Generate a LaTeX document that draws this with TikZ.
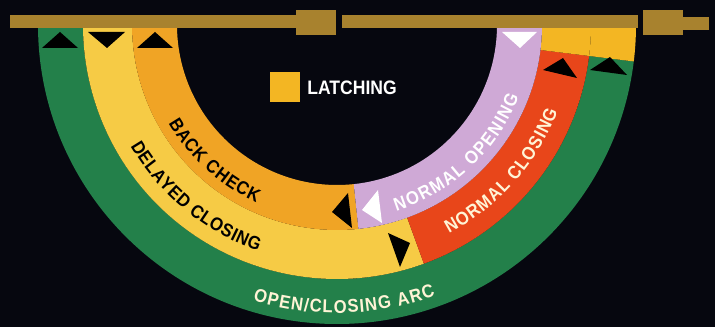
\documentclass[tikz,border=0pt]{standalone}
\usepackage{fontspec}
\setmainfont{Liberation Sans}
\usepackage{xcolor}
\usepackage{tikz}
\usetikzlibrary{positioning,decorations.text}
\newfontfamily\dcfont[FakeStretch=0.9]{Liberation Sans Bold}
\definecolor{DCBack}{HTML}{06070F}
\definecolor{DCBar}{HTML}{A8822E}
\definecolor{DCGreen}{HTML}{23804A}
\definecolor{DCYellow}{HTML}{F6CB45}
\definecolor{DCOrange}{HTML}{F0A425}
\definecolor{DCLatch}{HTML}{F3B623}
\definecolor{DCPurple}{HTML}{CFA9D6}
\definecolor{DCRed}{HTML}{E8461A}
\definecolor{DCCream}{HTML}{FFF4D6}

\begin{document}
\begin{tikzpicture}[x=1pt,y=1pt,
  marker/.style={fill=black},
  openmarker/.style={fill=white},
  arclabel/.style 2 args={decorate,decoration={text along path,text align={fit to path},
    text={|\dcfont\fontsize{18.5}{18.5}\selectfont\color{#1}|#2}}}]
\fill[DCBack] (0,0) rectangle (715,327);
\useasboundingbox (0,0) rectangle (715,327);
\begin{scope}[shift={(337,302)}]
\fill[DCGreen] (180:299) arc[start angle=180,end angle=353,radius=299] -- (353:254) arc[start angle=353,end angle=180,radius=254] -- cycle;
\fill[DCLatch] (353:299) arc[start angle=353,end angle=360,radius=299] -- (360:254) arc[start angle=360,end angle=353,radius=254] -- cycle;
\fill[DCYellow] (180:254) arc[start angle=180,end angle=290,radius=254] -- (290:205) arc[start angle=290,end angle=180,radius=205] -- cycle;
\fill[DCRed] (290:254) arc[start angle=290,end angle=353,radius=254] -- (353:205) arc[start angle=353,end angle=290,radius=205] -- cycle;
\fill[DCLatch] (353:254) arc[start angle=353,end angle=360,radius=254] -- (360:205) arc[start angle=360,end angle=353,radius=205] -- cycle;
\fill[DCOrange] (180:205) arc[start angle=180,end angle=276,radius=205] -- (276:160) arc[start angle=276,end angle=180,radius=160] -- cycle;
\fill[DCPurple] (276:205) arc[start angle=276,end angle=360,radius=205] -- (360:160) arc[start angle=360,end angle=276,radius=160] -- cycle;
\path[arclabel={black}{BACK CHECK}] (210.2:195) arc[start angle=210.2,end angle=245.6,radius=195];
\path[arclabel={black}{DELAYED CLOSING}] (210.4:239.5) arc[start angle=210.4,end angle=250.8,radius=239.5];
\path[arclabel={white}{NORMAL OPENING}] (287.7:195.5) arc[start angle=287.7,end angle=338.5,radius=195.5];
\path[arclabel={DCCream}{NORMAL CLOSING}] (298.2:237) arc[start angle=298.2,end angle=338.7,radius=237];
\path[arclabel={DCCream}{OPEN/CLOSING ARC}] (253:288) arc[start angle=253,end angle=290,radius=288];
\end{scope}
\fill[DCBar] (10,299) rectangle (296,312);
\fill[DCBar] (296,292) rectangle (336,317);
\fill[DCBar] (342,299) rectangle (638,312);
\fill[DCBar] (643,292) rectangle (683,317);
\fill[DCBar] (683,297) rectangle (709,310);
\fill[marker] (42,279) -- (60,295) -- (78,279) -- cycle;
\fill[marker] (88,295) -- (125,295) -- (107,279) -- cycle;
\fill[marker] (137,279) -- (155,295) -- (173,279) -- cycle;
\fill[openmarker] (502,295) -- (537,295) -- (520,279) -- cycle;
\fill[marker] (543,257) -- (563,269) -- (577,249) -- cycle;
\fill[marker] (590,257) -- (610,270) -- (627,252) -- cycle;
\fill[marker] (388,94) -- (410,84) -- (400,60) -- cycle;
\fill[marker] (332,115) -- (348,134) -- (352,99) -- cycle;
\fill[openmarker] (362,117) -- (378,137) -- (382,104) -- cycle;
\node (latchkey) [fill=DCLatch,minimum size=30,inner sep=0] at (285,239.5) {};
\node (latchtext) [right=7 of latchkey,inner sep=0,text=white,font=\dcfont\fontsize{19.5}{20}\selectfont] {LATCHING};
\end{tikzpicture}
\end{document}
